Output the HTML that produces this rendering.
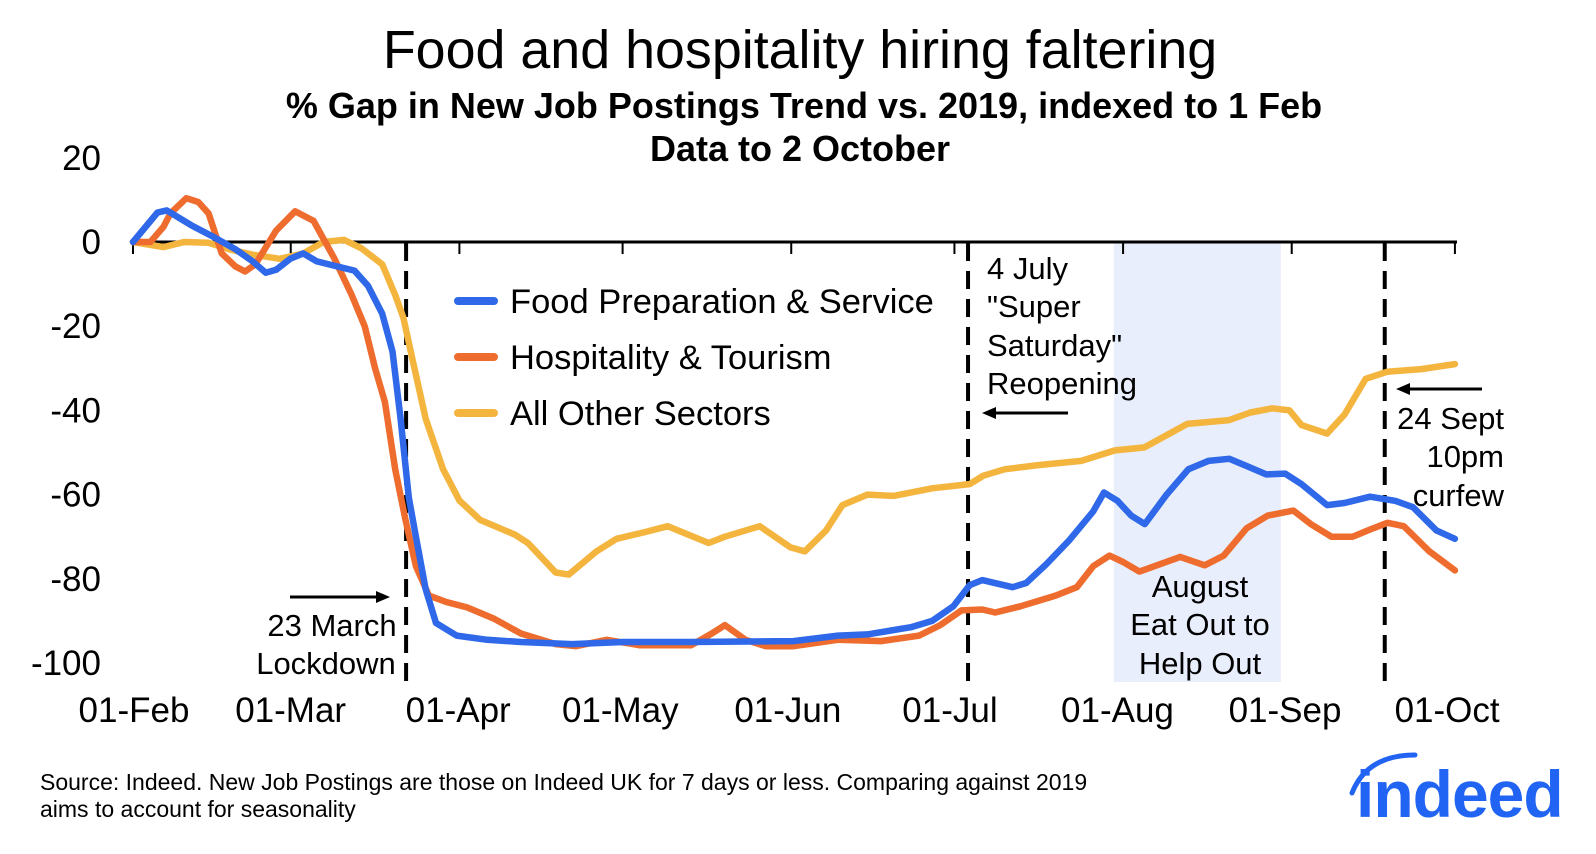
<!DOCTYPE html>
<html><head><meta charset="utf-8"><style>
body{margin:0;background:#fff;}
svg{display:block;font-family:"Liberation Sans",Arial,sans-serif;}
</style></head><body>
<svg id="chart" width="1596" height="854" viewBox="0 0 1596 854">
<text x="800" y="68" text-anchor="middle" font-size="53.8" fill="#000">Food and hospitality hiring faltering</text>
<text x="804" y="118" text-anchor="middle" font-size="36" font-weight="bold">% Gap in New Job Postings Trend vs. 2019, indexed to 1 Feb</text>
<text x="800" y="161" text-anchor="middle" font-size="36" font-weight="bold">Data to 2 October</text>
<g id="band"></g>
<g id="axes"></g>
<g id="lines"></g>
<g id="legend">
<line x1="458" y1="301" x2="494" y2="301" stroke="#2F68E8" stroke-width="8" stroke-linecap="round"/>
<text x="510" y="313" font-size="34.5">Food Preparation &amp; Service</text>
<line x1="458" y1="357" x2="494" y2="357" stroke="#EE6C2E" stroke-width="8" stroke-linecap="round"/>
<text x="510" y="369" font-size="34.5">Hospitality &amp; Tourism</text>
<line x1="458" y1="413" x2="494" y2="413" stroke="#F4B53F" stroke-width="8" stroke-linecap="round"/>
<text x="510" y="425" font-size="34.5">All Other Sectors</text>
</g>
<g font-size="31">
<line x1="290" y1="597" x2="378" y2="597" stroke="#000" stroke-width="3"/>
<polygon points="390,597 376,591 376,603" fill="#000"/>
<text x="332" y="636" text-anchor="middle">23 March</text>
<text x="326" y="674" text-anchor="middle">Lockdown</text>
<text x="987" y="279">4 July</text>
<text x="987" y="317">"Super</text>
<text x="987" y="356">Saturday"</text>
<text x="987" y="394">Reopening</text>
<line x1="1068" y1="413" x2="994" y2="413" stroke="#000" stroke-width="3"/>
<polygon points="982,413 996,407 996,419" fill="#000"/>
<text x="1200" y="597" text-anchor="middle">August</text>
<text x="1200" y="635" text-anchor="middle">Eat Out to</text>
<text x="1200" y="674" text-anchor="middle">Help Out</text>
<line x1="1482" y1="389" x2="1408" y2="389" stroke="#000" stroke-width="3"/>
<polygon points="1396,389 1410,383 1410,395" fill="#000"/>
<text x="1504" y="429" text-anchor="end">24 Sept</text>
<text x="1504" y="467" text-anchor="end">10pm</text>
<text x="1504" y="506" text-anchor="end">curfew</text>
</g>
<text x="40" y="790" font-size="23">Source: Indeed. New Job Postings are those on Indeed UK for 7 days or less. Comparing against 2019</text>
<text x="40" y="817" font-size="23">aims to account for seasonality</text>
<g>
<path d="M1352,793 Q1367,755 1415,755" stroke="#2164F3" stroke-width="5" fill="none" stroke-linecap="round"/>
<text x="1356" y="817" font-size="66" font-weight="bold" fill="#2164F3" letter-spacing="-1">indeed</text>
</g>
</svg>
<script>
const monthLabels = ["01-Feb","01-Mar","01-Apr","01-May","01-Jun","01-Jul","01-Aug","01-Sep","01-Oct"];
const monthDays = [0,29,60,90,121,151,182,213,243];
const yTicks = [20,0,-20,-40,-60,-80,-100];
const eventDays = [50.2,153.5,230.1];
const bandDays = [180.3,211];

const foodDays = [0,4.5,6.2,10.7,14.4,18.8,22,24.4,26.3,28.9,31.3,33.8,37.5,40.7,43.2,45.8,47.7,49.2,50.7,52,53.8,55.7,59.5,65.1,71.3,80.7,90.1,102.6,121.4,129.6,135,143,146.9,150.8,153.8,156.1,161.7,164.2,167.9,172,176.5,178.5,181,183.5,186,190,194,197.7,201.5,204.7,208.3,211.8,214.8,219.5,222.7,227.4,232.1,235.3,239.6,243];
const foodValues = [0,7,7.5,4,1.5,-1.7,-4.6,-7.3,-6.6,-4,-2.7,-4.6,-5.8,-6.8,-10.4,-17,-26,-42,-60.7,-70,-82.5,-90.5,-93.5,-94.5,-95,-95.5,-95,-95,-94.8,-93.5,-93.2,-91.5,-90,-86.5,-81.5,-80.3,-82,-81,-76.5,-71,-64,-59.5,-61.5,-65,-67,-60,-54,-52,-51.5,-53.2,-55.2,-55,-57.5,-62.5,-62,-60.5,-61.5,-63,-68.5,-70.5];

const hospDays = [0,3.2,5.6,6.9,9.8,12,13.9,16.3,18.8,20.6,22.5,26.3,29.8,33.2,37,40.2,42.6,44.5,46.3,48.2,50.1,52,54.4,57.6,61.4,66.4,71.3,77.7,81.4,87.1,93.2,102.6,106.4,108.8,112.6,116.3,121.4,129.6,137.5,144.5,148.4,152.3,156.1,158.5,163.2,169.6,173.5,176.5,179.5,182,185,192.5,197,200.5,204.7,208.6,213.3,216.5,220.3,224.2,227.4,230.6,233.6,238.3,243];
const hospValues = [0,0,3.6,6.8,10.4,9.5,6.8,-2.7,-5.8,-7,-5.3,2.7,7.3,5,-3.9,-12.6,-20,-30,-38,-54,-66,-77,-84,-85.5,-86.8,-89.5,-93,-95.5,-96,-94.5,-95.8,-95.8,-93,-91,-94.5,-96,-96,-94.5,-94.8,-93.5,-91,-87.5,-87.3,-88,-86.5,-84,-82,-77,-74.5,-76,-78.3,-74.8,-76.8,-74.5,-68,-65,-63.8,-67,-70,-70,-68.3,-66.7,-67.5,-73.5,-78];

const otherDays = [0,3.2,5.6,9.4,13.9,17.6,21.9,27,31.3,35,38.8,42,45.8,48.2,49.7,51.4,53.8,57,60,63.8,70.2,72.6,77.7,80.1,85.2,88.9,93.8,98.3,105.8,108.8,115.2,120.8,123.5,127.4,130.4,135,139.8,146.9,153.8,156.3,160.2,166.4,174.3,180.5,185.9,193.8,201.5,205.4,209.4,212.6,214.8,219.5,222.7,226.6,230.6,236.8,243];
const otherValues = [0,-0.7,-1.2,0,-0.2,-1.7,-3,-4,-2.7,0,0.5,-1.5,-5.3,-12.6,-18,-28,-42,-54,-61.4,-66,-69.5,-71.5,-78.5,-79,-73.5,-70.5,-69,-67.5,-71.5,-70,-67.5,-72.5,-73.5,-68.5,-62.5,-60,-60.3,-58.5,-57.5,-55.5,-54,-53,-52,-49.5,-48.8,-43.2,-42.3,-40.5,-39.5,-40,-43.5,-45.5,-41,-32.5,-30.8,-30.2,-29];

const NS="http://www.w3.org/2000/svg";
const X0=133, PXD=5.44, Y0=242, PXU=4.21, YTOP=243, YBOT=682;
function xScale(d){return X0+d*PXD;}
function yScale(v){return Y0-v*PXU;}
function mk(tag,attrs,parent){const e=document.createElementNS(NS,tag);for(const k in attrs)e.setAttribute(k,attrs[k]);parent.appendChild(e);return e;}

const band=document.getElementById('band');
const r=mk('rect',{x:xScale(bandDays[0]),y:YTOP,width:xScale(bandDays[1])-xScale(bandDays[0]),height:YBOT-YTOP,fill:'#E8EEFB'},band);



const axes=document.getElementById('axes');
const ax=mk('line',{x1:xScale(0),y1:Y0,x2:1457,y2:Y0,stroke:'#000','stroke-width':3},axes);


monthDays.forEach((d,i)=>{
  const t=mk('line',{x1:xScale(d),y1:Y0,x2:xScale(d),y2:Y0+12,stroke:'#000','stroke-width':2},axes);
  
  
  const l=mk('text',{x:xScale(d)+1-i*1.1,y:722,'text-anchor':'middle','font-size':35},axes);
  l.textContent=monthLabels[i];
  
  
});
yTicks.forEach(v=>{
  const l=mk('text',{x:101,y:yScale(v)+12,'text-anchor':'end','font-size':35},axes);
  l.textContent=v;
  
  
});
eventDays.forEach(d=>{
  const l=mk('line',{x1:xScale(d),y1:YTOP,x2:xScale(d),y2:YBOT,stroke:'#000','stroke-width':4,'stroke-dasharray':'18 10'},axes);
  
  
});

const lines=document.getElementById('lines');
function series(days,vals,color,name){
  const pts=days.map((d,i)=>xScale(d).toFixed(1)+','+yScale(vals[i]).toFixed(1)).join(' ');
  const p=mk('polyline',{points:pts,fill:'none',stroke:color,'stroke-width':6.5,'stroke-linejoin':'round','stroke-linecap':'round'},lines);
  
  
}
series(otherDays,otherValues,'#F4B53F','other-sectors-line');
series(hospDays,hospValues,'#EE6C2E','hospitality-line');
series(foodDays,foodValues,'#2F68E8','food-preparation-line');
</script>
</body></html>
